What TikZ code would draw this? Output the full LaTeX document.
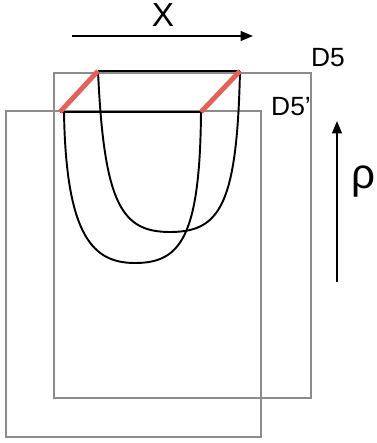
\documentclass[tikz,border=0pt]{standalone}
\usepackage{fontspec}
\setmainfont{Liberation Sans}
\usepackage{xcolor}
\usetikzlibrary{arrows.meta, positioning}

\definecolor{framegray}{RGB}{140,140,140}
\definecolor{cutred}{RGB}{226,98,90}

\begin{document}
\begin{tikzpicture}[x=0.02cm, y=-0.02cm,
  frame/.style={draw=framegray, line width=1.5pt},
  curve/.style={draw=black, line width=1.1pt},
  cut/.style={draw=cutred, line width=2.8pt},
  arr/.style={-{Triangle[length=7pt, width=5.5pt]}, line width=1.1pt},
  lbl/.style={font=\fontsize{15}{17}\selectfont, inner sep=1pt},
  biglbl/.style={font=\fontsize{19}{21}\selectfont, inner sep=1pt}
]
\useasboundingbox (0,0) rectangle (377,443);

% Frames
\coordinate (d5nw) at (54,73);
\coordinate (d5se) at (311,398);
\coordinate (d5pnw) at (6,111);
\coordinate (d5pse) at (261,437);
\draw[frame] (d5nw) rectangle (d5se);
\draw[frame] (d5pnw) rectangle (d5pse);

% Cut ends
\coordinate (a1) at (98,71);
\coordinate (b1) at (240,71);
\coordinate (a2) at (60,112);
\coordinate (b2) at (201,112);
\coordinate (bot1) at (170,232);
\coordinate (bot2) at (135,263);

% Curves
\draw[curve] (a1) -- (b1);
\draw[curve] (a2) -- (b2);
\draw[curve] (a1) .. controls (104,205) and (122,232) .. (bot1)
  .. controls (220,232) and (237,205) .. (b1);
\draw[curve] (64,112) .. controls (66,238) and (94,263) .. (bot2)
  .. controls (180,263) and (200,238) .. (b2);
\draw[cut] (a2) -- (a1);
\draw[cut] (b2) -- (b1);

% Labels
\node[biglbl] (xlab) at (163,15) {X};
\node[lbl] (d5lab) at (328,58) {D5};
\node[lbl] (d5plab) at (291,107) {D5’};
\node[font=\fontsize{24}{26}\selectfont, inner sep=1pt] (rholab) at (363,182) {ρ};

% Arrows
\coordinate (xstart) at (72,36);
\coordinate (xend) at (253,36);
\coordinate (rstart) at (337,282);
\coordinate (rend) at (337,121);
\draw[arr] (xstart) -- (xend);
\draw[arr] (rstart) -- (rend);

\end{tikzpicture}
\end{document}
